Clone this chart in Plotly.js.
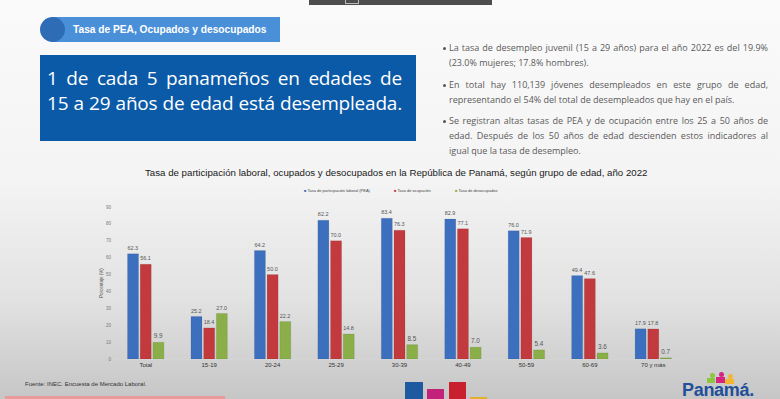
<!DOCTYPE html>
<html>
<head>
<meta charset="utf-8">
<script src="https://cdn.plot.ly/plotly-3.0.1.min.js"></script>
<style>
  html, body { margin:0; padding:0; }
  body { width:780px; height:399px; overflow:hidden; position:relative;
         background: linear-gradient(to bottom, #fafafa 0%, #f4f4f4 45%, #e2e2e2 75%, #c6c6c6 100%);
         font-family: "Open Sans", sans-serif; }
  .abs { position:absolute; }
  #chart { position:absolute; left:0; top:0; width:780px; height:399px; }
  .bl { position:absolute; left:449px; width:319px; font-size:9px; color:#5a5a5a; line-height:15px; white-space:nowrap; }
  .j { text-align:justify; text-align-last:justify; white-space:normal; }
  .dot { position:absolute; left:443px; width:3px; height:3px; border-radius:50%; background:#555; }
  .big { text-align:justify; text-align-last:justify; white-space:nowrap; }
</style>
</head>
<body>
<div class="abs" style="left:309px;top:0;width:183px;height:5px;background:#4d4d4d;"></div>
<div class="abs" style="left:345px;top:0;width:12px;height:3px;border:1px solid #bbb;border-top:none;"></div>

<div class="abs" style="left:52px;top:17px;width:228px;height:25px;background:#4a90d9;"></div>
<div class="abs" style="left:40px;top:17px;width:25px;height:25px;border-radius:50%;background:#2e6cb6;"></div>
<div class="abs" style="left:73px;top:17px;height:25px;line-height:25px;color:#fff;font-family:'Liberation Sans',Arial,sans-serif;font-weight:bold;font-size:10.2px;">Tasa de PEA, Ocupados y desocupados</div>

<div class="abs" style="left:40px;top:55px;width:376px;height:86px;background:#0b5aa8;"></div>
<div class="abs" style="left:47px;top:66px;width:355px;color:#fff;font-size:19px;line-height:25px;letter-spacing:-0.2px;">
  <div class="big" id="l1">1 de cada 5 panameños en edades de</div>
  <div class="big" id="l2">15 a 29 años de edad está desempleada.</div>
</div>

<div class="dot" style="top:47px;"></div>
<div class="bl j" style="top:40px;">La tasa de desempleo juvenil (15 a 29 años) para el año 2022 es del 19.9%</div>
<div class="bl" style="top:55px;">(23.0% mujeres; 17.8% hombres).</div>
<div class="dot" style="top:84px;"></div>
<div class="bl j" style="top:77px;">En total hay 110,139 jóvenes desempleados en este grupo de edad,</div>
<div class="bl" style="top:92px;">representando el 54% del total de desempleados que hay en el país.</div>
<div class="dot" style="top:120px;"></div>
<div class="bl j" style="top:113px;">Se registran altas tasas de PEA y de ocupación entre los 25 a 50 años de</div>
<div class="bl j" style="top:128px;">edad. Después de los 50 años de edad descienden estos indicadores al</div>
<div class="bl" style="top:143px;">igual que la tasa de desempleo.</div>

<div id="chart"></div>

<div class="abs" style="left:25px;top:381px;font-family:'Liberation Sans Narrow','Liberation Sans',sans-serif;font-size:6px;color:#333;">Fuente: INEC. Encuesta de Mercado Laboral.</div>
<div class="abs" style="left:5px;top:396px;width:220px;height:3px;background:#e99a9a;"></div>

<div class="abs" style="left:405px;top:382px;width:18px;height:17px;background:#1d5aa0;"></div>
<div class="abs" style="left:427px;top:389px;width:17px;height:10px;background:#c2227a;"></div>
<div class="abs" style="left:449px;top:382px;width:17px;height:17px;background:#c8202e;"></div>
<div class="abs" style="left:470px;top:397px;width:17px;height:2px;background:#e0b030;"></div>

<div class="abs" style="left:710px;top:373px;width:5px;height:5px;border-radius:50%;background:#8cc63f;"></div>
<div class="abs" style="left:707px;top:378px;width:8px;height:5px;background:#8cc63f;"></div>
<div class="abs" style="left:719px;top:372px;width:5px;height:5px;border-radius:50%;background:#d6247f;"></div>
<div class="abs" style="left:716px;top:377px;width:9px;height:6px;background:#d6247f;"></div>
<div class="abs" style="left:728px;top:374px;width:5px;height:5px;border-radius:50%;background:#f2b632;"></div>
<div class="abs" style="left:725px;top:379px;width:9px;height:5px;background:#f2b632;"></div>
<div class="abs" style="left:682px;top:380px;font-family:'Liberation Sans',Arial,sans-serif;font-weight:bold;font-size:18px;color:#1f4f99;letter-spacing:-0.3px;">Panamá.</div>

<script>
const categories = ["Total","15-19","20-24","25-29","30-39","40-49","50-59","60-69","70 y más"];
const pea  = [62.3, 25.2, 64.2, 82.2, 83.4, 82.9, 76.0, 49.4, 17.9];
const ocup = [56.1, 18.4, 50.0, 70.0, 76.3, 77.1, 71.9, 47.6, 17.8];
const deso = [9.9, 27.0, 22.2, 14.8, 8.5, 7.0, 5.4, 3.6, 0.7];
const seriesNames = ["Tasa de participación laboral (PEA)", "Tasa de ocupación", "Tasa de desocupados"];
const colors = ["#3d6fbf", "#c23a3e", "#8aaf48"];
const vals = [pea, ocup, deso];

const traces = vals.map((v, i) => ({
  type: "bar", x: categories, y: v, name: seriesNames[i],
  marker: {color: colors[i], line: {color: "rgba(0,0,0,0.15)", width: 0.5}},
  text: v.map(d => d.toFixed(1)), textposition: "outside",
  textfont: {size: 6.3, color: "#555", family: "Liberation Sans, Arial, sans-serif"},
  cliponaxis: false, showlegend: false
}));

// legend drawn as small annotations (reference legend symbols are tiny)
const plotL = 114, plotW = 571, plotB = 359, plotH = 152;
const legendPx = [302, 392, 453];
const legendAnn = seriesNames.map((n, i) => ({
  xref: "paper", yref: "paper",
  x: (legendPx[i] - plotL) / plotW, y: (plotB - 190) / plotH,
  xanchor: "left", yanchor: "middle", showarrow: false,
  text: '<span style="color:' + colors[i] + '">■</span> ' + n,
  font: {size: 4, color: "#444", family: "Liberation Sans, Arial, sans-serif"}
}));

const layout = {
  width: 780, height: 399,
  margin: {l: 114, r: 95, t: 207, b: 40, pad: 0},
  paper_bgcolor: "rgba(0,0,0,0)", plot_bgcolor: "rgba(0,0,0,0)",
  barmode: "group", bargap: 0.4, bargroupgap: 0.13,
  title: {text: "Tasa de participación laboral, ocupados y desocupados en la República de Panamá, según grupo de edad, año 2022",
          font: {size: 9.7, color: "#1a1a1a", family: "Liberation Sans, Arial, sans-serif"},
          x: 0.508, xanchor: "center", y: 1 - 173/399, yanchor: "middle", yref: "container"},
  showlegend: false,
  annotations: legendAnn,
  xaxis: {type: "category", tickfont: {size: 6, color: "#333", family: "Liberation Sans, Arial, sans-serif"},
          showline: true, linecolor: "#d4d4d4", linewidth: 1, ticks: "", showgrid: false, fixedrange: true},
  yaxis: {range: [0, 90], dtick: 10, showgrid: false, zeroline: false, ticks: "",
          tickfont: {size: 4.5, color: "#777", family: "Liberation Sans, Arial, sans-serif"},
          title: {text: "Porcentaje (%)", font: {size: 4.5, color: "#555", family: "Liberation Sans, Arial, sans-serif"}, standoff: 2},
          ticklabelstandoff: 2, fixedrange: true}
};

Plotly.newPlot("chart", traces, layout, {displayModeBar: false, staticPlot: true});
</script>
</body>
</html>
